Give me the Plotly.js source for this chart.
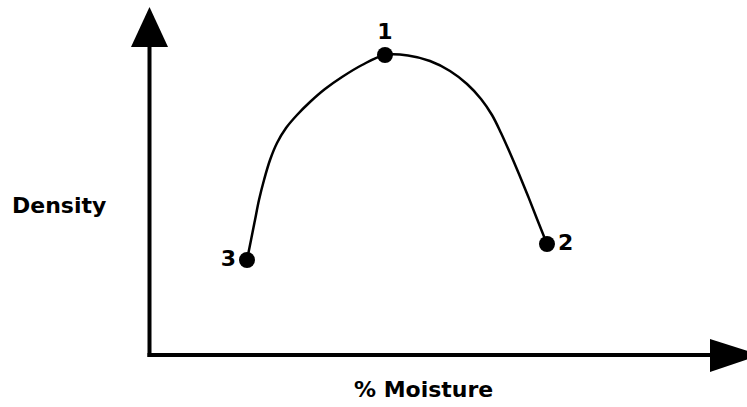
<!DOCTYPE html>
<html>
<head>
<meta charset="utf-8">
<script src="https://cdn.plot.ly/plotly-3.0.1.min.js"></script>
<style>html,body{margin:0;padding:0;background:#fff;}#chart{width:747px;height:407px;}</style>
</head>
<body>
<div id="chart"></div>
<script>
// Compaction curve (arbitrary units, 0-100)
const curveMoisture = [17.32, 18.04, 18.75, 19.46, 20.36, 21.43, 22.68, 24.29, 26.25, 28.57, 31.25, 34.29, 37.86, 41.96,
                       46.07, 50.0, 53.57, 56.61, 59.11, 61.07, 62.68, 64.29, 65.89, 67.5, 69.11, 70.89];
const curveDensity  = [30.84, 37.34, 43.83, 50.32, 56.82, 63.31, 68.83, 73.70, 77.92, 82.14, 86.36, 90.26, 94.16, 97.40,
                       97.24, 95.45, 92.21, 87.99, 83.12, 77.92, 72.08, 65.58, 58.77, 51.62, 44.16, 36.04];

const pointLabels   = ['1', '2', '3'];
const pointMoisture = [41.96, 70.89, 17.32];
const pointDensity  = [97.40, 36.04, 30.84];

const xTitle = '% Moisture';
const yTitle = 'Density';

// ---- layout geometry (pixels) ----
const W = 747, H = 407;
const M = {l: 150, r: 37, t: 47, b: 52};
const PW = W - M.l - M.r, PH = H - M.t - M.b;
const px = x => (x - M.l) / PW;
const py = y => (H - M.b - y) / PH;

const font = {family: 'DejaVu Sans', size: 22, color: '#000', weight: 'bold'};
const labelPos = ['top center', 'middle right', 'middle left'];

const traces = [
  {x: curveMoisture, y: curveDensity, mode: 'lines', type: 'scatter',
   line: {color: '#000', width: 2.5, shape: 'spline', smoothing: 1}, hoverinfo: 'skip'},
  {x: pointMoisture, y: pointDensity, mode: 'markers+text', type: 'scatter',
   text: pointLabels.map(t => '<b>' + t + '</b>'), textposition: labelPos,
   textfont: {family: 'DejaVu Sans', size: 22, color: '#000'},
   marker: {color: '#000', size: 16}, cliponaxis: false}
];

const line = {color: '#000', width: 4};
const layout = {
  width: W, height: H, margin: M, showlegend: false,
  paper_bgcolor: '#fff', plot_bgcolor: '#fff',
  xaxis: {range: [0, 100], visible: false, fixedrange: true},
  yaxis: {range: [0, 100], visible: false, fixedrange: true},
  shapes: [
    {type: 'line', xref: 'paper', yref: 'paper', x0: px(149.5), x1: px(149.5), y0: py(357), y1: py(46), line: line},
    {type: 'line', xref: 'paper', yref: 'paper', x0: px(147.5), x1: px(712), y0: py(355), y1: py(355), line: line},
    {type: 'path', xref: 'paper', yref: 'paper', fillcolor: '#000', line: {width: 0},
     path: `M ${px(149.5)} ${py(7)} L ${px(131)} ${py(47)} L ${px(168)} ${py(47)} Z`},
    {type: 'path', xref: 'paper', yref: 'paper', fillcolor: '#000', line: {width: 0},
     path: `M ${px(760)} ${py(355)} L ${px(710)} ${py(339)} L ${px(710)} ${py(372)} Z`}
  ],
  annotations: [
    {xref: 'paper', yref: 'paper', x: px(58.5), y: py(205), text: '<b>' + yTitle + '</b>',
     showarrow: false, font: font, xanchor: 'center', yanchor: 'middle'},
    {xref: 'paper', yref: 'paper', x: px(423), y: py(390), text: '<b>' + xTitle + '</b>',
     showarrow: false, font: font, xanchor: 'center', yanchor: 'middle'}
  ]
};

Plotly.newPlot('chart', traces, layout, {displayModeBar: false, staticPlot: true});
</script>
</body>
</html>
